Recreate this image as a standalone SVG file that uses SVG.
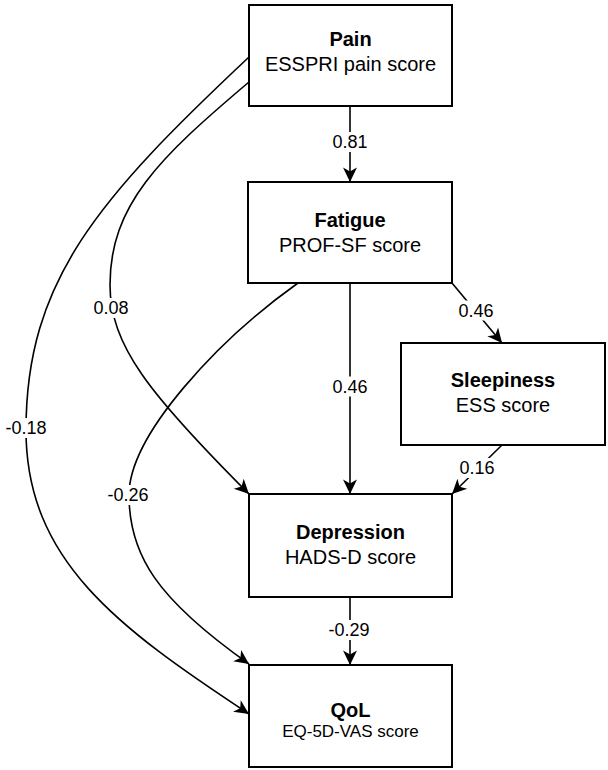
<svg xmlns="http://www.w3.org/2000/svg" width="608" height="770" viewBox="0 0 608 770">
<style>
.box{fill:#fff;stroke:#000;stroke-width:2}
.t{font-family:"Liberation Sans",Arial,sans-serif;font-size:20px;text-anchor:middle;fill:#000}
.b{font-weight:bold}
.s17{font-size:17px}
.e{fill:none;stroke:#000;stroke-width:1.6}
.lb{fill:#fff}
.l{font-family:"Liberation Sans",Arial,sans-serif;font-size:18px;text-anchor:middle;fill:#000}
</style>
<defs>
<marker id="arr" viewBox="-16 -9 18 18" refX="0" refY="0" markerWidth="18" markerHeight="18" markerUnits="userSpaceOnUse" orient="auto">
<path d="M0,0 L-14.5,-7 L-10.5,0 L-14.5,7 Z" fill="#000"/>
</marker>
</defs>
<rect width="608" height="770" fill="#fff"/>
<g id="connectors">
<path class="e" d="M350,106 L350,182" marker-end="url(#arr)"/>
<path class="e" d="M452,283 L502,343" marker-end="url(#arr)"/>
<path class="e" d="M350,283 L350,494" marker-end="url(#arr)"/>
<path class="e" d="M502,445 L452,494" marker-end="url(#arr)"/>
<path class="e" d="M350,597 L350,665" marker-end="url(#arr)"/>
<path class="e" d="M249,82 C159,158 110,205 110,285 C110,345 149,394 249,494" marker-end="url(#arr)"/>
<path class="e" d="M249,57 C99,198 26,280 26,430 C26,560 117,627 249,714" marker-end="url(#arr)"/>
<path class="e" d="M298,283 C218,340 129,435 129,495 C129,555 157,599 249,664" marker-end="url(#arr)"/>
<g id="labels">
<rect class="lb" x="331" y="132" width="38" height="20"/><text class="l" x="350" y="148">0.81</text>
<rect class="lb" x="457" y="300.5" width="38" height="20"/><text class="l" x="476" y="316.5">0.46</text>
<rect class="lb" x="331" y="376.5" width="38" height="20"/><text class="l" x="350" y="392.5">0.46</text>
<rect class="lb" x="458" y="458" width="38" height="20"/><text class="l" x="477" y="474">0.16</text>
<rect class="lb" x="327" y="620" width="44" height="20"/><text class="l" x="349" y="636">-0.29</text>
<rect class="lb" x="92" y="298" width="38" height="20"/><text class="l" x="111" y="314">0.08</text>
<rect class="lb" x="4" y="418" width="44" height="20"/><text class="l" x="26" y="434">-0.18</text>
<rect class="lb" x="106" y="485" width="44" height="20"/><text class="l" x="128" y="501">-0.26</text>
</g>
</g>
<g id="pain">
<rect class="box" x="249" y="5" width="203" height="101"/>
<text class="t b" x="350.5" y="46">Pain</text>
<text class="t" x="350.5" y="70.5">ESSPRI pain score</text>
</g>
<g id="fatigue">
<rect class="box" x="248" y="182" width="204" height="101"/>
<text class="t b" x="350" y="227">Fatigue</text>
<text class="t" x="350" y="251.5">PROF-SF score</text>
</g>
<g id="sleepiness">
<rect class="box" x="401" y="343" width="204" height="102"/>
<text class="t b" x="503" y="387">Sleepiness</text>
<text class="t" x="503" y="411.5">ESS score</text>
</g>
<g id="depression">
<rect class="box" x="249" y="494" width="203" height="103"/>
<text class="t b" x="350.5" y="539">Depression</text>
<text class="t" x="350.5" y="564">HADS-D score</text>
</g>
<g id="qol">
<rect class="box" x="249" y="665" width="203" height="102"/>
<text class="t b" x="350.5" y="716.5">QoL</text>
<text class="t s17" x="350.5" y="736.5">EQ-5D-VAS score</text>
</g>
</svg>
